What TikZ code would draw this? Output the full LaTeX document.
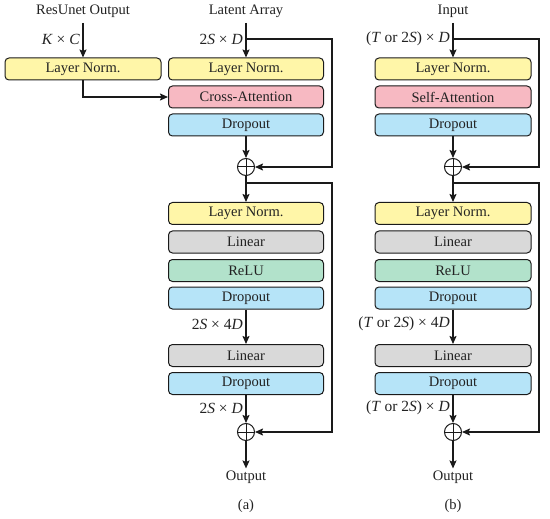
\documentclass[tikz,border=0pt]{standalone}
\usepackage{fontspec}
\setmainfont{Liberation Serif}
\usetikzlibrary{arrows.meta}
\definecolor{cyel}{HTML}{FFF6A8}
\definecolor{cpink}{HTML}{F7B9C2}
\definecolor{cblue}{HTML}{B6E4F8}
\definecolor{cgray}{HTML}{D9D9D9}
\definecolor{cgreen}{HTML}{B2E2CB}
\definecolor{cline}{HTML}{1A1A1A}
\definecolor{ctext}{HTML}{222222}
\begin{document}
\begin{tikzpicture}[x=1pt,y=-1pt,
  box/.style={draw=cline, line width=1pt, rounded corners=4pt, minimum height=22pt, minimum width=155pt, inner sep=0pt, text=ctext, font=\fontsize{14.5}{16}\selectfont},
  yel/.style={box, fill=cyel},
  pink/.style={box, fill=cpink},
  blu/.style={box, fill=cblue},
  gry/.style={box, fill=cgray},
  grn/.style={box, fill=cgreen},
  sum/.style={circle, draw=cline, line width=1pt, minimum size=17pt, inner sep=0pt,
    path picture={\draw[line width=1pt, cline] (path picture bounding box.north) -- (path picture bounding box.south) (path picture bounding box.west) -- (path picture bounding box.east);}},
  txt/.style={text=ctext, font=\fontsize{14.5}{16}\selectfont, inner sep=2pt},
  lbl/.style={text=ctext, font=\fontsize{15.5}{17}\selectfont, inner sep=0pt, anchor=east},
  arr/.style={draw=cline, line width=1.5pt, -{Stealth[length=8pt,width=7pt,inset=1.5pt]}}
]
\useasboundingbox (0,0) rectangle (550,519);

% ---------- left input ----------
\node[txt] (l-in) at (83,11) {ResUnet Output};
\coordinate (l-top) at (83,23);
\node[yel, minimum width=156pt] (l-ln) at (83,69) {Layer Norm.};
\node[lbl] (l-lab) at (80,39) {\textit{K} × \textit{C}};
\draw[arr] (l-top) -- (l-ln.north);

% ---------- column (a) ----------
\node[txt] (a-in) at (246,11) {Latent Array};
\coordinate (a-top) at (246,23);
\coordinate (a-br1) at (246,39);
\node[yel] (a-ln1) at (246,69) {Layer Norm.};
\node[pink] (a-att) at (246,97) {Cross-Attention};
\node[blu] (a-drop1) at (246,125) {Dropout};
\node[sum] (a-sum1) at (246,167) {};
\coordinate (a-br2) at (246,183);
\node[yel] (a-ln2) at (246,213.5) {Layer Norm.};
\node[gry] (a-lin1) at (246,242) {Linear};
\node[grn] (a-relu) at (246,270.5) {ReLU};
\node[blu] (a-drop2) at (246,298) {Dropout};
\node[gry] (a-lin2) at (246,355.5) {Linear};
\node[blu] (a-drop3) at (246,383.5) {Dropout};
\node[sum] (a-sum2) at (246,432) {};
\node[txt] (a-out) at (246,477) {Output};
\node[txt] (a-cap) at (246,506) {(a)};

\node[lbl] (a-lab1) at (243,39) {2\textit{S} × \textit{D}};
\node[lbl] (a-lab2) at (243,324) {2\textit{S} × 4\textit{D}};
\node[lbl] (a-lab3) at (243,408) {2\textit{S} × \textit{D}};

\draw[arr] (a-top) -- (a-ln1.north);
\draw[arr] (a-br1) -- ++(86,0) |- (a-sum1.east);
\draw[arr] (l-ln.south) |- (a-att.west);
\draw[arr] (a-drop1) -- (a-sum1);
\draw[arr] (a-sum1) -- (a-ln2);
\draw[arr] (a-br2) -- ++(86,0) |- (a-sum2.east);
\draw[arr] (a-drop2) -- (a-lin2);
\draw[arr] (a-drop3) -- (a-sum2);
\draw[arr] (a-sum2) -- (a-out.north);

% ---------- column (b) ----------
\node[txt] (b-in) at (453,11) {Input};
\coordinate (b-top) at (453,23);
\coordinate (b-br1) at (453,39);
\node[yel, minimum width=156pt] (b-ln1) at (453,69) {Layer Norm.};
\node[pink, minimum width=156pt] (b-att) at (453,97) {Self-Attention};
\node[blu, minimum width=156pt] (b-drop1) at (453,125) {Dropout};
\node[sum] (b-sum1) at (453,167) {};
\coordinate (b-br2) at (453,183);
\node[yel, minimum width=156pt] (b-ln2) at (453,213.5) {Layer Norm.};
\node[gry, minimum width=156pt] (b-lin1) at (453,242) {Linear};
\node[grn, minimum width=156pt] (b-relu) at (453,270.5) {ReLU};
\node[blu, minimum width=156pt] (b-drop2) at (453,298) {Dropout};
\node[gry, minimum width=156pt] (b-lin2) at (453,355.5) {Linear};
\node[blu, minimum width=156pt] (b-drop3) at (453,383.5) {Dropout};
\node[sum] (b-sum2) at (453,432) {};
\node[txt] (b-out) at (453,477) {Output};
\node[txt] (b-cap) at (453,506) {(b)};

\node[lbl] (b-lab1) at (450,39) {(\textit{T} or 2\textit{S}) × \textit{D}};
\node[lbl] (b-lab2) at (450,324) {(\textit{T} or 2\textit{S}) × 4\textit{D}};
\node[lbl] (b-lab3) at (450,408) {(\textit{T} or 2\textit{S}) × \textit{D}};

\draw[arr] (b-top) -- (b-ln1.north);
\draw[arr] (b-br1) -- ++(86,0) |- (b-sum1.east);
\draw[arr] (b-drop1) -- (b-sum1);
\draw[arr] (b-sum1) -- (b-ln2);
\draw[arr] (b-br2) -- ++(86,0) |- (b-sum2.east);
\draw[arr] (b-drop2) -- (b-lin2);
\draw[arr] (b-drop3) -- (b-sum2);
\draw[arr] (b-sum2) -- (b-out.north);
\end{tikzpicture}
\end{document}
